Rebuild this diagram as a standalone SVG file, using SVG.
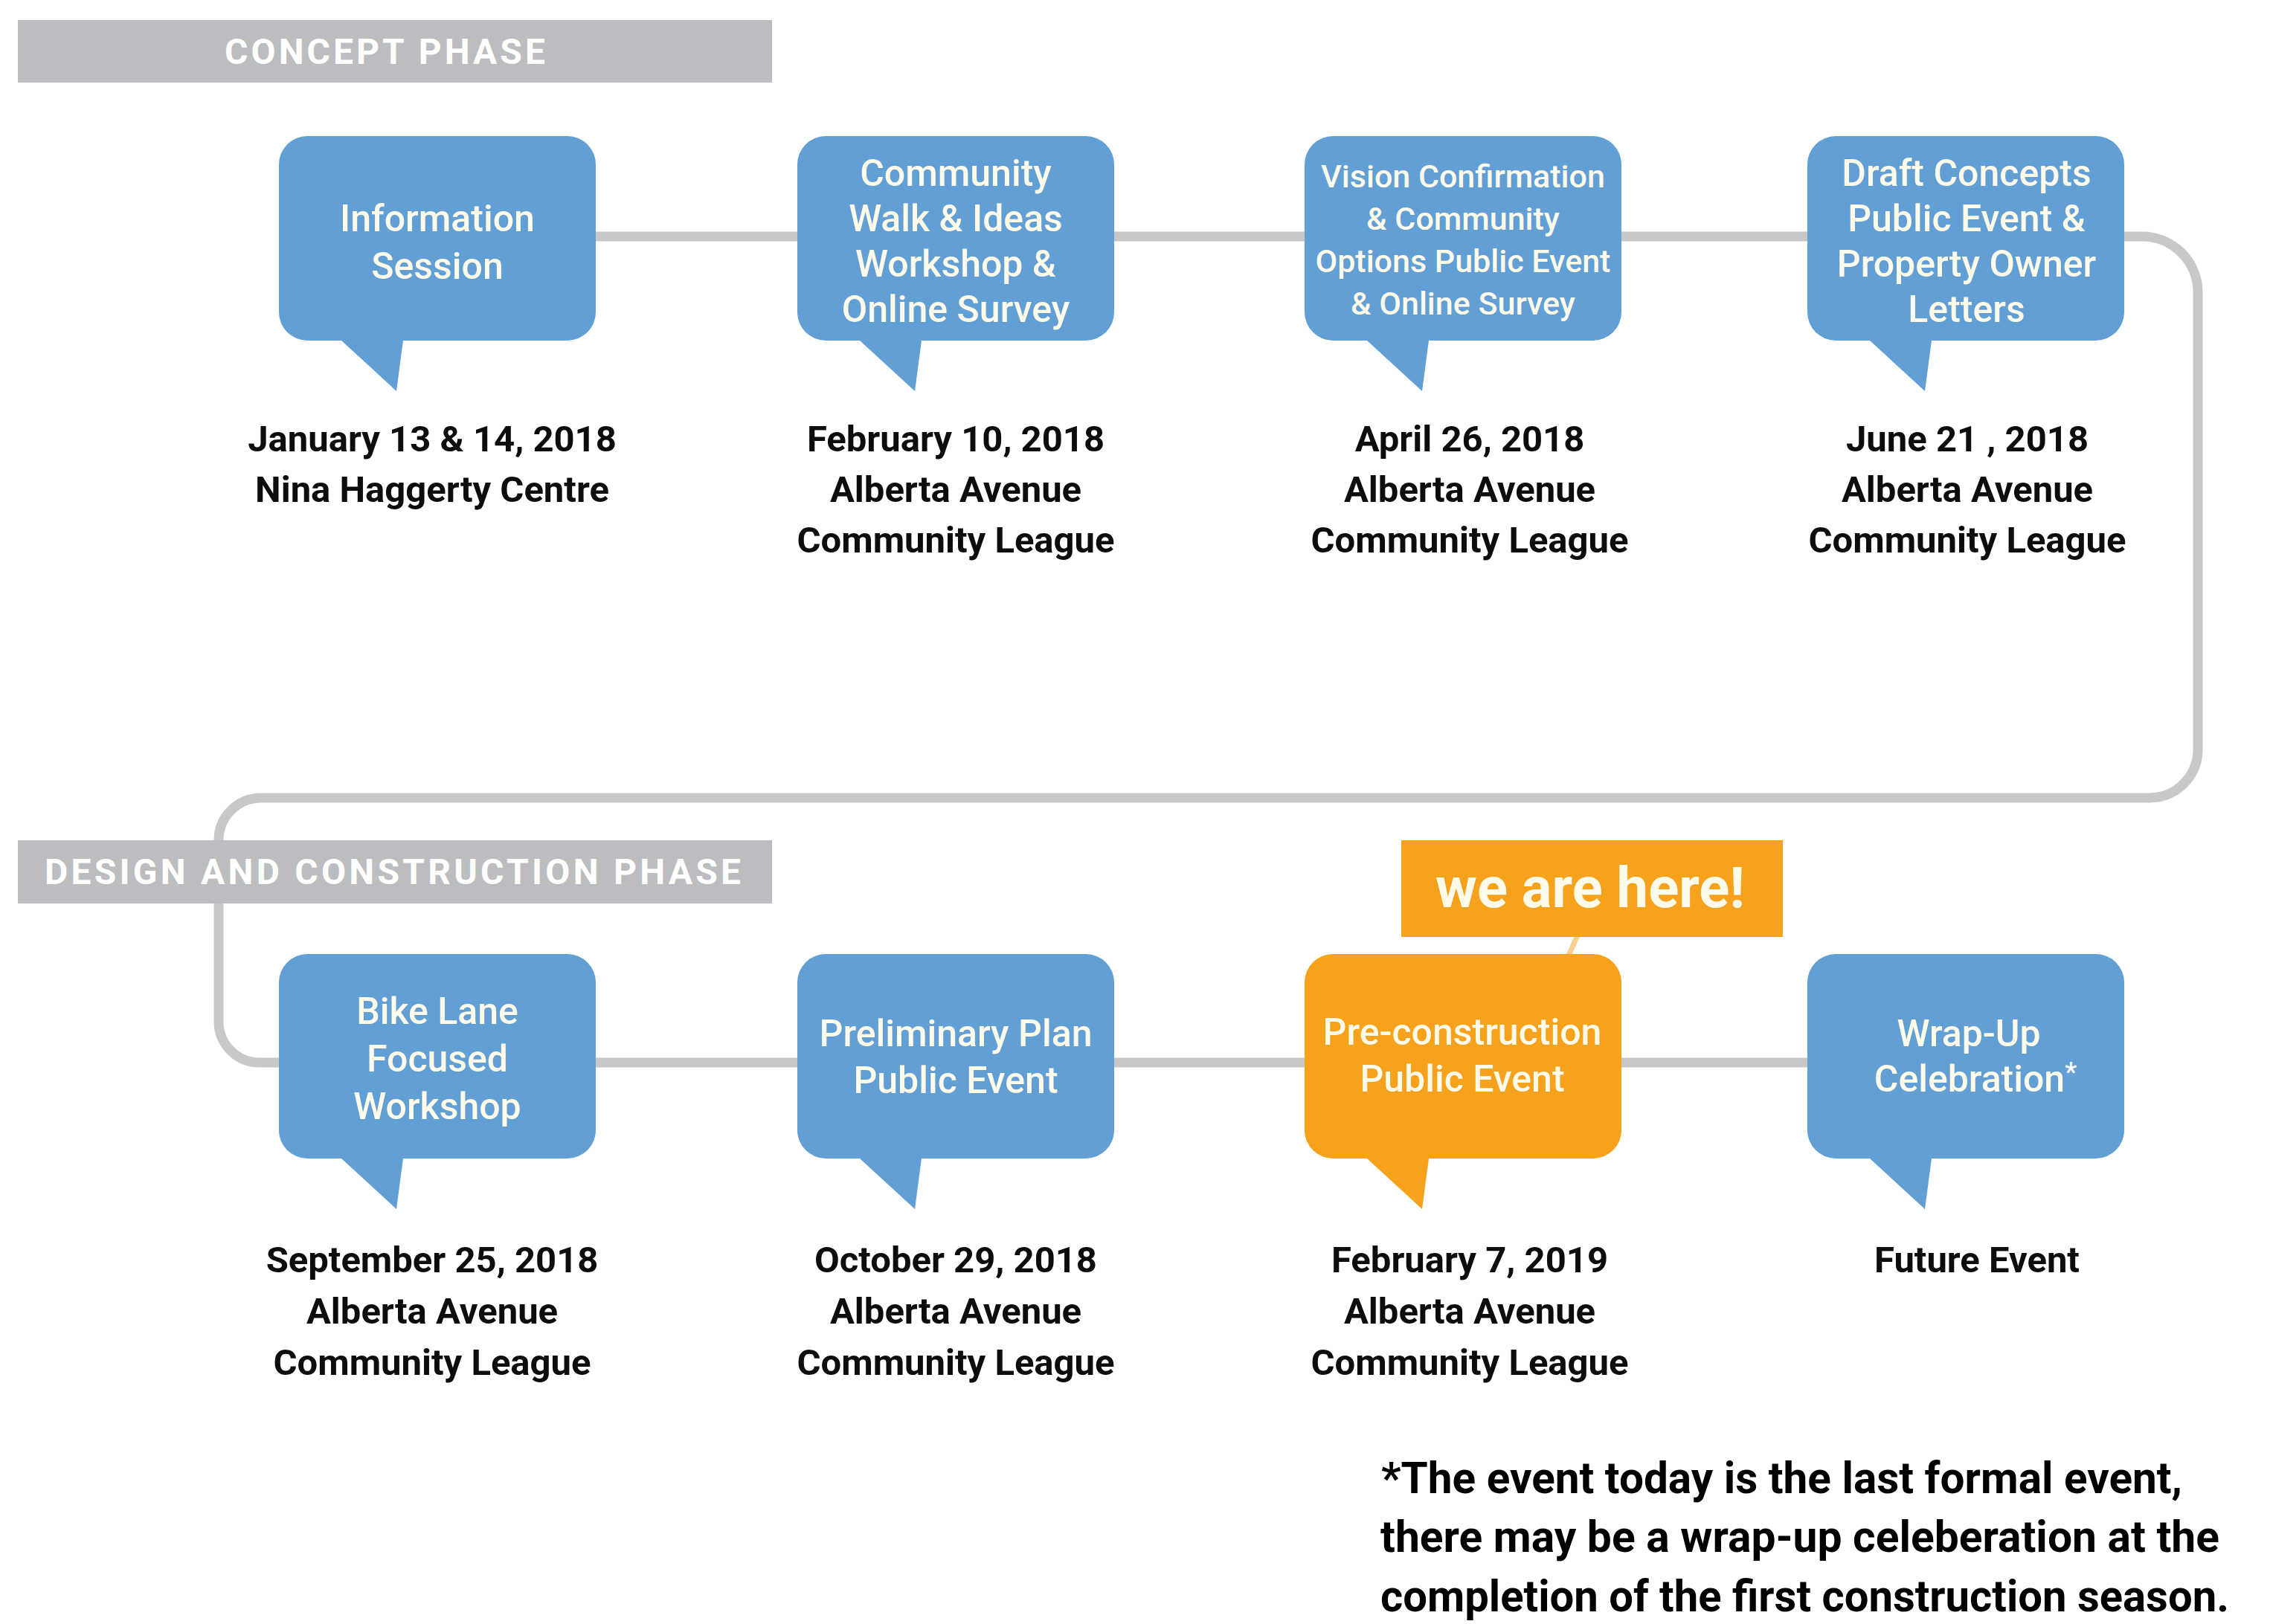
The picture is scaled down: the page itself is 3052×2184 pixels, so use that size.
<svg xmlns="http://www.w3.org/2000/svg" width="3052" height="2184" viewBox="0 0 3052 2184">
<style>
.bt{font-family:Roboto,"Liberation Sans",Arial,sans-serif;font-weight:500;font-size:50px;fill:#fffbea;text-anchor:middle}
.bs{font-size:43px}
.lb{font-family:Roboto,"Liberation Sans",Arial,sans-serif;font-weight:700;font-size:49px;fill:#0d0d0d;text-anchor:middle}
.ph{font-family:Roboto,"Liberation Sans",Arial,sans-serif;font-weight:700;font-size:48px;fill:#ffffff}
.fn{font-family:Roboto,"Liberation Sans",Arial,sans-serif;font-weight:700;font-size:60px;fill:#000000}
.conn{fill:none;stroke:#c8c8c8;stroke-width:13}
.blue{fill:#629fd5}
.orange{fill:#f7a21c}
.bar{fill:#bcbdc0}
</style>
<defs>
<path id="bubble" d="M38,0 H388 A38,38 0 0 1 426,38 V237 A38,38 0 0 1 388,275 H167 L158,343 L84,275 H38 A38,38 0 0 1 0,237 V38 A38,38 0 0 1 38,0 Z"/>
</defs>
<rect x="0" y="0" width="3052" height="2184" fill="#ffffff"/>

<g id="connectors">
<path class="conn" d="M800,318 H2880 A75,75 0 0 1 2955,393 V1008 A65,65 0 0 1 2890,1073 H351 A57,57 0 0 0 294,1130 V1374 A55,55 0 0 0 349,1429 H2430"/>
<line x1="2121" y1="1258" x2="2109" y2="1285" stroke="#f9cf96" stroke-width="7"/>
</g>

<g id="concept-phase">
<rect class="bar" x="24" y="27" width="1014" height="84"/>
<text class="ph" x="302" y="86" textLength="431" lengthAdjust="spacing">CONCEPT PHASE</text>
</g>

<g id="design-phase">
<rect class="bar" x="24" y="1130" width="1014" height="85"/>
<text class="ph" x="60" y="1189" textLength="936" lengthAdjust="spacing">DESIGN AND CONSTRUCTION PHASE</text>
</g>

<g id="node-information-session">
<use href="#bubble" class="blue" x="375" y="183"/>
<text class="bt" x="588" y="311">Information</text>
<text class="bt" x="588" y="375">Session</text>
<text class="lb" x="581" y="607">January 13 &amp; 14, 2018</text>
<text class="lb" x="581" y="675">Nina Haggerty Centre</text>
</g>

<g id="node-community-walk">
<use href="#bubble" class="blue" x="1072" y="183"/>
<text class="bt" x="1285" y="250">Community</text>
<text class="bt" x="1285" y="311">Walk &amp; Ideas</text>
<text class="bt" x="1285" y="372">Workshop &amp;</text>
<text class="bt" x="1285" y="433">Online Survey</text>
<text class="lb" x="1285" y="607">February 10, 2018</text>
<text class="lb" x="1285" y="675">Alberta Avenue</text>
<text class="lb" x="1285" y="743">Community League</text>
</g>

<g id="node-vision-confirmation">
<use href="#bubble" class="blue" x="1754" y="183"/>
<text class="bt bs" x="1967" y="252">Vision Confirmation</text>
<text class="bt bs" x="1967" y="309">&amp; Community</text>
<text class="bt bs" x="1967" y="366">Options Public Event</text>
<text class="bt bs" x="1967" y="423">&amp; Online Survey</text>
<text class="lb" x="1976" y="607">April 26, 2018</text>
<text class="lb" x="1976" y="675">Alberta Avenue</text>
<text class="lb" x="1976" y="743">Community League</text>
</g>

<g id="node-draft-concepts">
<use href="#bubble" class="blue" x="2430" y="183"/>
<text class="bt" x="2644" y="250">Draft Concepts</text>
<text class="bt" x="2644" y="311">Public Event &amp;</text>
<text class="bt" x="2644" y="372">Property Owner</text>
<text class="bt" x="2644" y="433">Letters</text>
<text class="lb" x="2645" y="607">June 21 , 2018</text>
<text class="lb" x="2645" y="675">Alberta Avenue</text>
<text class="lb" x="2645" y="743">Community League</text>
</g>

<g id="node-bike-lane">
<use href="#bubble" class="blue" x="375" y="1283"/>
<text class="bt" x="588" y="1377">Bike Lane</text>
<text class="bt" x="588" y="1441">Focused</text>
<text class="bt" x="588" y="1505">Workshop</text>
<text class="lb" x="581" y="1711">September 25, 2018</text>
<text class="lb" x="581" y="1780">Alberta Avenue</text>
<text class="lb" x="581" y="1849">Community League</text>
</g>

<g id="node-preliminary-plan">
<use href="#bubble" class="blue" x="1072" y="1283"/>
<text class="bt" x="1285" y="1407">Preliminary Plan</text>
<text class="bt" x="1285" y="1470">Public Event</text>
<text class="lb" x="1285" y="1711">October 29, 2018</text>
<text class="lb" x="1285" y="1780">Alberta Avenue</text>
<text class="lb" x="1285" y="1849">Community League</text>
</g>

<g id="node-pre-construction">
<use href="#bubble" class="orange" x="1754" y="1283"/>
<text class="bt" x="1966" y="1405">Pre-construction</text>
<text class="bt" x="1966" y="1468">Public Event</text>
<text class="lb" x="1976" y="1711">February 7, 2019</text>
<text class="lb" x="1976" y="1780">Alberta Avenue</text>
<text class="lb" x="1976" y="1849">Community League</text>
</g>

<g id="we-are-here">
<rect class="orange" x="1884" y="1130" width="513" height="130"/>
<text x="2138" y="1220" text-anchor="middle" font-family="Roboto, 'Liberation Sans', Arial, sans-serif" font-weight="700" font-size="76" fill="#fffbea">we are here!</text>
</g>

<g id="node-wrap-up">
<use href="#bubble" class="blue" x="2430" y="1283"/>
<text class="bt" x="2647" y="1407">Wrap-Up</text>
<text class="bt" x="2656" y="1468">Celebration<tspan fill="#ffffff" font-size="36" dy="-14">*</tspan></text>
<text class="lb" x="2658" y="1711">Future Event</text>
</g>

<g id="footnote">
<text class="fn" x="1857" y="2008" textLength="1077" lengthAdjust="spacingAndGlyphs">*The event today is the last formal event,</text>
<text class="fn" x="1856" y="2087" textLength="1128" lengthAdjust="spacingAndGlyphs">there may be a wrap-up celeberation at the</text>
<text class="fn" x="1856" y="2167" textLength="1141" lengthAdjust="spacingAndGlyphs">completion of the first construction season.</text>
</g>
</svg>
